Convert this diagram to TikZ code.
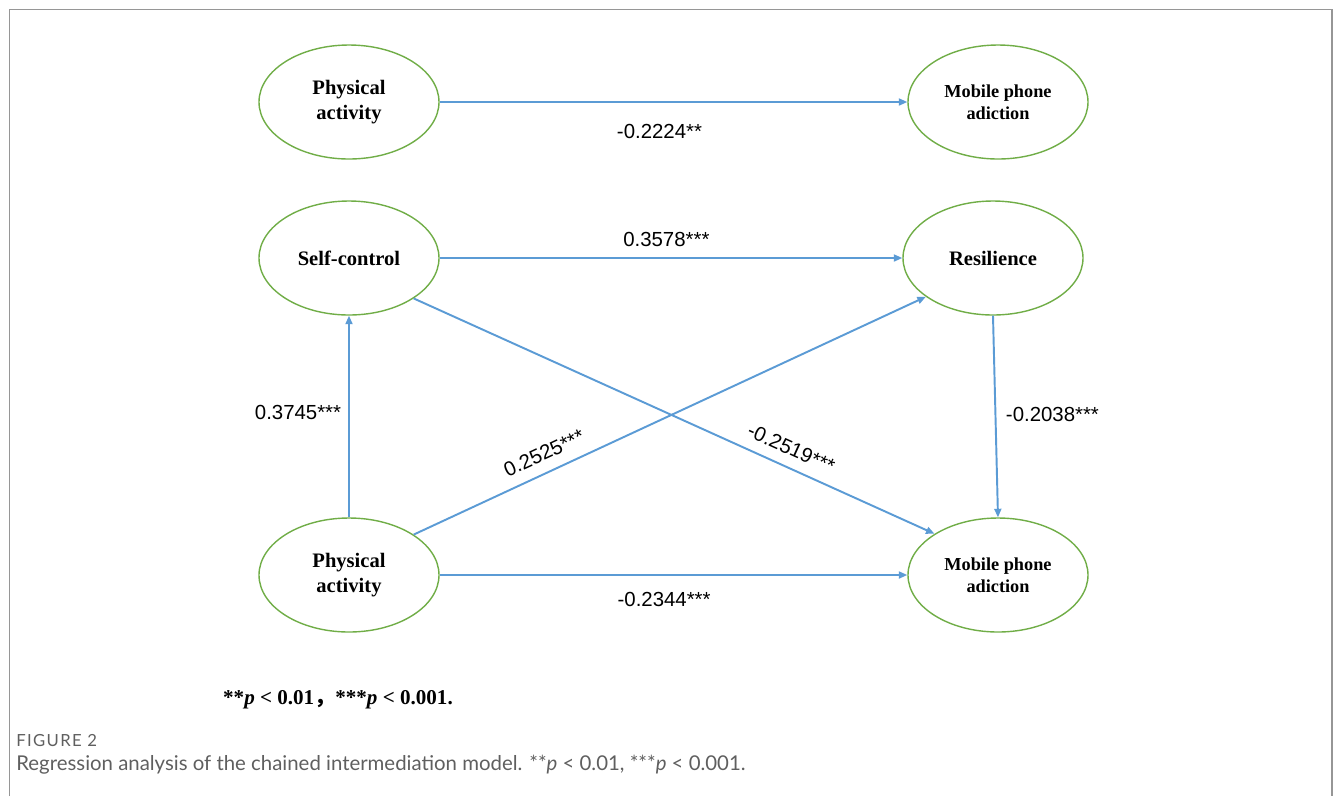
\documentclass[tikz,border=0pt]{standalone}
\usepackage{fontspec}
\setmainfont{Liberation Serif}
\newfontfamily\coeffont{Liberation Sans}
\newfontfamily\captionfont{Lato}
\newfontfamily\figfont[LetterSpace=8]{Lato}
\newfontfamily\cjk{Noto Sans CJK SC}
\definecolor{path-blue}{RGB}{91,155,213}
\definecolor{node-green}{RGB}{112,173,71}
\definecolor{frame-grey}{RGB}{150,150,150}
\definecolor{caption-grey}{RGB}{95,95,95}
\usetikzlibrary{arrows.meta,positioning,shapes.geometric}

\begin{document}
\begin{tikzpicture}[on grid,
        var/.style={ellipse,draw=node-green,line width=0.8pt,minimum width=3.6cm,
            minimum height=2.28cm,inner sep=0pt,align=center,
            font=\bfseries\fontsize{11.7}{14.2}\selectfont},
        mob/.style={var,font=\bfseries\fontsize{10.4}{12.5}\selectfont},
        link/.style={draw=path-blue,line width=1.1pt,-{Triangle[length=1.7mm,width=1.4mm]}},
        coef/.style={font=\coeffont\fontsize{11.6}{14}\selectfont,inner sep=1pt}
        ]
    \useasboundingbox (0,0) rectangle (26.66,-15.92);
    \draw[frame-grey,line width=0.8pt] (0.19,-15.92) -- (0.19,-0.19) -- (26.64,-0.19) -- (26.64,-15.92);
    %
    \node[var] (pa1) at (6.98,-2.04) {Physical\\activity};
    \node[mob] (mpa1) [right=12.98cm of pa1] {Mobile phone\\adiction};
    \node[var] (sc) [below=3.12cm of pa1] {Self-control};
    \node[var] (res) [right=12.88cm of sc] {Resilience};
    \node[var] (pa2) [below=9.46cm of pa1] {Physical\\activity};
    \node[mob] (mpa2) [right=12.98cm of pa2] {Mobile phone\\adiction};
    %
        \draw[link] (pa1) -- node[coef,pos=0.47,yshift=-0.58cm] {-0.2224**} (mpa1);
        \draw[link] (sc) -- node[coef,pos=0.49,yshift=0.38cm] {0.3578***} (res);
        \draw[link] (pa2) -- node[coef,pos=0.52,xshift=-1.02cm] {0.3745***} (sc);
        \draw[link] (res.south) -- node[coef,pos=0.49,xshift=1.14cm] {-0.2038***} (mpa2.north);
        \draw[link] (pa2.32) -- node[coef,sloped,pos=0.27,above=0.18cm] {0.2525***} (res.210);
        \draw[link] (sc.-32) -- node[coef,sloped,pos=0.71,above=0.18cm] {-0.2519***} (mpa2.147);
        \draw[link] (pa2) -- node[coef,pos=0.48,yshift=-0.48cm] {-0.2344***} (mpa2);
    %
        \node[font=\bfseries\fontsize{12}{14}\selectfont] (note) at (6.76,-14.0)
            {**\textit{p} < 0.01{\cjk ，}***\textit{p} < 0.001.};
    %
        \node[anchor=west,inner sep=0pt,text=caption-grey,font=\figfont\fontsize{9.5}{11}\selectfont]
            (figlabel) at (0.32,-14.82) {FIGURE 2};
        \node[anchor=west,inner sep=0pt,text=caption-grey,font=\captionfont\fontsize{11.6}{13}\selectfont]
            (caption) at (0.32,-15.3) {Regression analysis of the chained intermediation model. **\textit{p} < 0.01, ***\textit{p} < 0.001.};
    \end{tikzpicture}
\end{document}
